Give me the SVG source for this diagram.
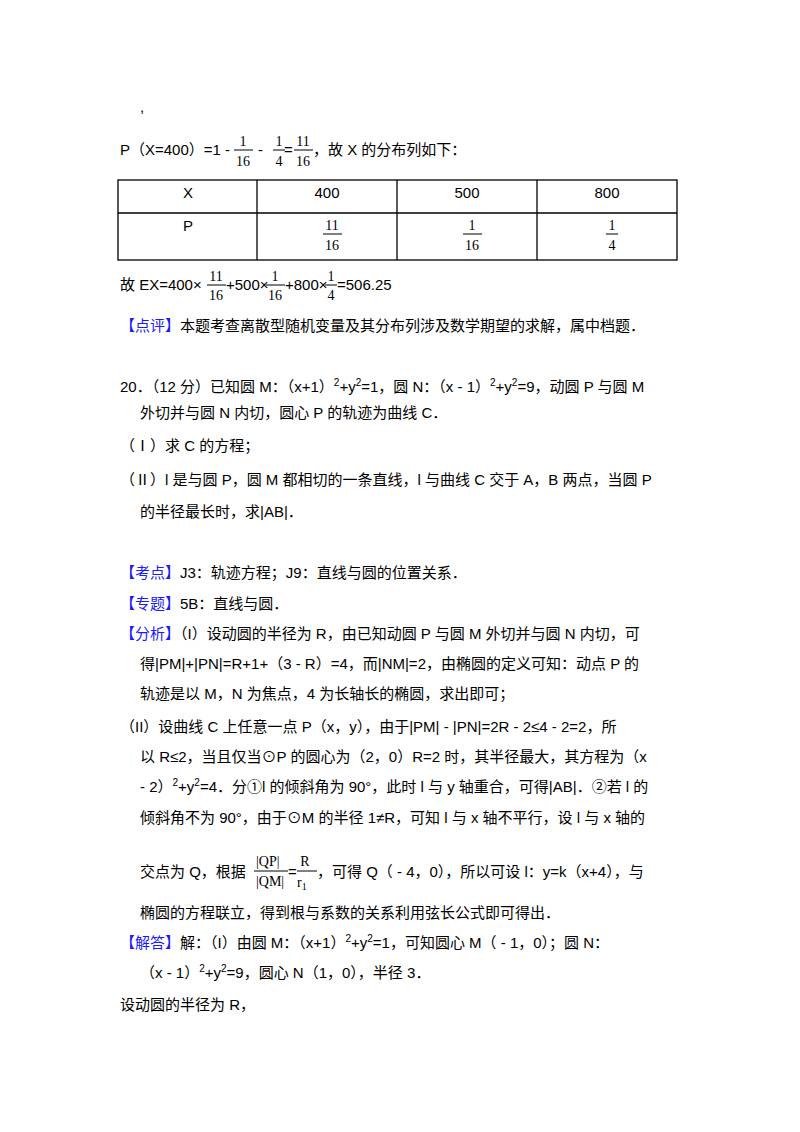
<svg xmlns="http://www.w3.org/2000/svg" width="800" height="1132" viewBox="0 0 800 1132">
<style>
text{font-family:"Liberation Sans","Noto Sans CJK SC",sans-serif;font-size:15px;fill:#000}
.s{font-family:"Liberation Serif","Noto Sans CJK SC",serif;font-size:14px}
.b{fill:#1a1aff}
.m{text-anchor:middle}
line{stroke:#000;stroke-width:1}
.t{stroke-width:1.3}
</style>
<rect width="800" height="1132" fill="#fff"/>
<text x="140" y="112">,</text>
<g id="p1">
<text x="120" y="155">P（X=400）=1 -</text>
<text class="s m" x="243" y="146">1</text><line x1="234" y1="150" x2="253" y2="150"/><text class="s m" x="243" y="166">16</text>
<text x="258" y="155">-</text>
<text class="s m" x="279" y="146">1</text><line x1="273" y1="150" x2="285" y2="150"/><text class="s m" x="279" y="166">4</text>
<text x="284" y="155">=</text>
<text class="s m" x="303" y="146">11</text><line x1="294" y1="150" x2="313" y2="150"/><text class="s m" x="303" y="166">16</text>
<text x="313" y="155">，故 X 的分布列如下：</text>
</g>
<g id="table">
<rect x="118" y="180" width="559" height="80" fill="none" stroke="#000" stroke-width="1.3"/>
<line class="t" x1="118" y1="213" x2="677" y2="213"/>
<line class="t" x1="257" y1="180" x2="257" y2="260"/>
<line class="t" x1="397" y1="180" x2="397" y2="260"/>
<line class="t" x1="537" y1="180" x2="537" y2="260"/>
<text class="m" x="188" y="198">X</text><text class="m" x="327" y="198">400</text><text class="m" x="467" y="198">500</text><text class="m" x="607" y="198">800</text>
<text class="m" x="188" y="231">P</text>
<text class="s m" x="332" y="230">11</text><line x1="323" y1="234" x2="342" y2="234"/><text class="s m" x="332" y="250">16</text>
<text class="s m" x="472" y="230">1</text><line x1="463" y1="234" x2="482" y2="234"/><text class="s m" x="472" y="250">16</text>
<text class="s m" x="612" y="230">1</text><line x1="606" y1="234" x2="618" y2="234"/><text class="s m" x="612" y="250">4</text>
</g>
<g id="ex">
<text x="120" y="290">故 EX=400×</text>
<text class="s m" x="216" y="281">11</text><line x1="207" y1="285" x2="226" y2="285"/><text class="s m" x="216" y="300">16</text>
<text x="226" y="290">+500×</text>
<text class="s m" x="275" y="281">1</text><line x1="266" y1="285" x2="285" y2="285"/><text class="s m" x="275" y="300">16</text>
<text x="285" y="290">+800×</text>
<text class="s m" x="331" y="281">1</text><line x1="325" y1="285" x2="337" y2="285"/><text class="s m" x="331" y="300">4</text>
<text x="337" y="290">=506.25</text>
</g>
<text x="120" y="331"><tspan class="b">【点评】</tspan>本题考查离散型随机变量及其分布列涉及数学期望的求解，属中档题．</text>
<text x="120" y="392">20．（12 分）已知圆 M：（x+1）<tspan font-size="10" dy="-6">2</tspan><tspan dy="6">+y</tspan><tspan font-size="10" dy="-6">2</tspan><tspan dy="6">=1，圆 N：（x - 1）</tspan><tspan font-size="10" dy="-6">2</tspan><tspan dy="6">+y</tspan><tspan font-size="10" dy="-6">2</tspan><tspan dy="6">=9，动圆 P 与圆 M</tspan></text>
<text x="140" y="418">外切并与圆 N 内切，圆心 P 的轨迹为曲线 C．</text>
<text x="120" y="451">（Ⅰ）求 C 的方程；</text>
<text x="120" y="485">（Ⅱ）l 是与圆 P，圆 M 都相切的一条直线，l 与曲线 C 交于 A，B 两点，当圆 P</text>
<text x="140" y="517">的半径最长时，求|AB|．</text>
<text x="120" y="578"><tspan class="b">【考点】</tspan>J3：轨迹方程；J9：直线与圆的位置关系．</text>
<text x="120" y="609"><tspan class="b">【专题】</tspan>5B：直线与圆．</text>
<text x="120" y="639"><tspan class="b">【分析】</tspan>（I）设动圆的半径为 R，由已知动圆 P 与圆 M 外切并与圆 N 内切，可</text>
<text x="140" y="669">得|PM|+|PN|=R+1+（3 - R）=4，而|NM|=2，由椭圆的定义可知：动点 P 的</text>
<text x="140" y="699">轨迹是以 M，N 为焦点，4 为长轴长的椭圆，求出即可；</text>
<text x="120" y="732">（II）设曲线 C 上任意一点 P（x，y），由于|PM| - |PN|=2R - 2≤4 - 2=2，所</text>
<text x="140" y="762">以 R≤2，当且仅当⊙P 的圆心为（2，0）R=2 时，其半径最大，其方程为（x</text>
<text x="140" y="792"> - 2）<tspan font-size="10" dy="-6">2</tspan><tspan dy="6">+y</tspan><tspan font-size="10" dy="-6">2</tspan><tspan dy="6">=4．分①l 的倾斜角为 90°，此时 l 与 y 轴重合，可得|AB|．②若 l 的</tspan></text>
<text x="140" y="823">倾斜角不为 90°，由于⊙M 的半径 1≠R，可知 l 与 x 轴不平行，设 l 与 x 轴的</text>
<g id="frac2">
<text x="140" y="877">交点为 Q，根据</text>
<text class="s" x="256" y="866" font-size="13">|QP|</text><line x1="254" y1="871" x2="288" y2="871"/><text class="s" x="256" y="886" font-size="13">|QM|</text>
<text x="288" y="877">=</text>
<text class="s m" x="305" y="866">R</text><line x1="297" y1="871" x2="317" y2="871"/><text class="s" x="297" y="887">r<tspan font-size="10" dy="3">1</tspan></text>
<text x="317" y="877">，可得 Q（ - 4，0），所以可设 l：y=k（x+4），与</text>
</g>
<text x="140" y="918">椭圆的方程联立，得到根与系数的关系利用弦长公式即可得出．</text>
<text x="120" y="948"><tspan class="b">【解答】</tspan>解：（I）由圆 M：（x+1）<tspan font-size="10" dy="-6">2</tspan><tspan dy="6">+y</tspan><tspan font-size="10" dy="-6">2</tspan><tspan dy="6">=1，可知圆心 M（ - 1，0）；圆 N：</tspan></text>
<text x="140" y="978">（x - 1）<tspan font-size="10" dy="-6">2</tspan><tspan dy="6">+y</tspan><tspan font-size="10" dy="-6">2</tspan><tspan dy="6">=9，圆心 N（1，0），半径 3．</tspan></text>
<text x="120" y="1010">设动圆的半径为 R，</text>
</svg>
